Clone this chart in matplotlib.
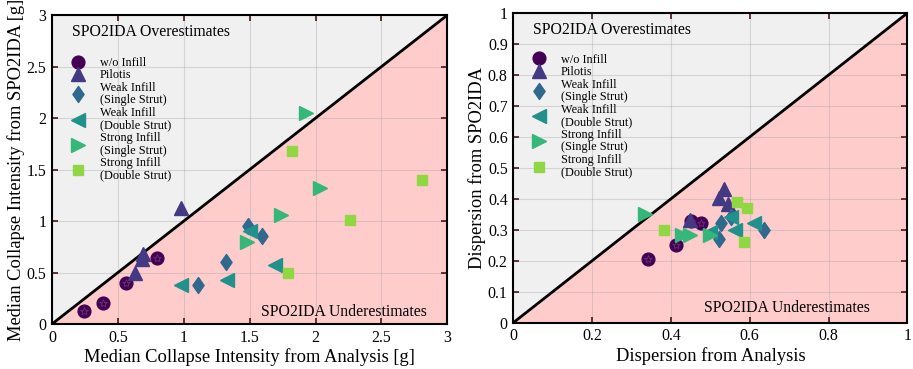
import matplotlib.pyplot as plt
import numpy as np
from matplotlib.path import Path

plt.rcParams['font.family'] = ['Liberation Serif', 'DejaVu Serif']

# tall diamond marker
tall_diamond = Path([(0, 1), (0.7, 0), (0, -1), (-0.7, 0), (0, 1)],
                    [Path.MOVETO, Path.LINETO, Path.LINETO, Path.LINETO, Path.CLOSEPOLY])

# group names, marker styles and colours
groups = ['w/o Infill', 'Pilotis', 'Weak Infill\n(Single Strut)', 'Weak Infill\n(Double Strut)',
          'Strong Infill\n(Single Strut)', 'Strong Infill\n(Double Strut)']
markers = ['o', '^', tall_diamond, '<', '>', 's']
colors = ['#440154', '#443983', '#31688e', '#21918c', '#35b779', '#90d743']
sizes = [9.2, 10, 11.5, 10, 10, 7.7]

# median collapse intensity [g]: analysis (x) vs SPO2IDA (y)
med_x = [
    [0.24, 0.385, 0.56, 0.80],
    [0.98, 0.69, 0.68, 0.63],
    [1.49, 1.59, 1.32, 1.11],
    [1.50, 1.69, 1.33, 0.98],
    [1.93, 2.03, 1.74, 1.48],
    [1.82, 2.81, 2.26, 1.79],
]
med_y = [
    [0.13, 0.20, 0.40, 0.645],
    [1.13, 0.68, 0.63, 0.50],
    [0.95, 0.85, 0.60, 0.38],
    [0.90, 0.57, 0.43, 0.38],
    [2.05, 1.32, 1.06, 0.80],
    [1.68, 1.40, 1.01, 0.50],
]

# dispersion: analysis (x) vs SPO2IDA (y)
disp_x = [
    [0.342, 0.414, 0.45, 0.477],
    [0.536, 0.523, 0.544, 0.449],
    [0.528, 0.635, 0.521, 0.553],
    [0.553, 0.610, 0.562, 0.500],
    [0.335, 0.428, 0.449, 0.500],
    [0.568, 0.593, 0.383, 0.585],
]
disp_y = [
    [0.207, 0.252, 0.33, 0.321],
    [0.433, 0.404, 0.382, 0.332],
    [0.321, 0.300, 0.271, 0.341],
    [0.341, 0.321, 0.298, 0.292],
    [0.352, 0.282, 0.282, 0.282],
    [0.389, 0.371, 0.298, 0.260],
]


def draw_panel(ax, xs, ys, lim, ticks, xlabel, ylabel, over_pos, under_pos, leg_anchor):
    # shaded halves either side of the 1:1 line
    ax.fill([0, lim, 0], [0, lim, lim], color='#f0f0f0', zorder=0.2, lw=0)
    ax.fill([0, lim, lim], [0, 0, lim], color='#ffcccc', zorder=0.2, lw=0)
    ax.plot([0, lim], [0, lim], color='black', lw=2, zorder=2)

    handles = []
    for i in range(len(groups)):
        h, = ax.plot(xs[i], ys[i], linestyle='none', marker=markers[i], ms=sizes[i],
                     color=colors[i], mec=colors[i], zorder=3 + i, label=groups[i])
        handles.append(h)
        if i == 0:
            # little starburst inside the circles
            ax.plot(xs[i], ys[i], linestyle='none', marker='*', ms=6, mfc='none',
                    mec='#6e3a7c', mew=0.5, zorder=3 + i)

    ax.set_xlim(0, lim)
    ax.set_ylim(0, lim)
    ax.set_xticks(ticks[0])
    ax.set_yticks(ticks[1])
    ax.set_xticklabels([f'{t:g}' for t in ticks[0]])
    ax.set_yticklabels([f'{t:g}' for t in ticks[1]])
    ax.grid(True, color='#a0a0a0', alpha=0.35, lw=0.8)
    ax.set_axisbelow(True)
    ax.tick_params(direction='in', top=True, right=True, length=4, width=1.2,
                   color='#4a1414', labelsize=11.4, pad=4)
    for s in ax.spines.values():
        s.set_linewidth(1.5)
        s.set_zorder(20)
    ax.set_xlabel(xlabel, fontsize=13.3, labelpad=2)
    ax.set_ylabel(ylabel, fontsize=13.3, labelpad=1)

    ax.text(over_pos[0], over_pos[1], 'SPO2IDA Overestimates', transform=ax.transAxes,
            fontsize=11.3, ha='left', va='center', zorder=30)
    ax.text(under_pos[0], under_pos[1], 'SPO2IDA Underestimates', transform=ax.transAxes,
            fontsize=11.3, ha='right', va='center', zorder=30)

    leg = ax.legend(handles=handles, loc='upper left', bbox_to_anchor=leg_anchor, frameon=False,
                    fontsize=8.8, labelspacing=0.05, handletextpad=0.8, handlelength=2,
                    borderpad=0, borderaxespad=0)
    for t in leg.get_texts():
        t.set_linespacing(1.05)


fig = plt.figure(figsize=(9.13, 3.69), dpi=100)
ax1 = fig.add_axes([0.057, 0.122, 0.433, 0.837])
ax2 = fig.add_axes([0.5622, 0.1255, 0.4316, 0.839])

draw_panel(ax1, med_x, med_y, 3, (np.arange(0, 3.01, 0.5), np.arange(0, 3.01, 0.5)),
           'Median Collapse Intensity from Analysis [g]',
           'Median Collapse Intensity from SPO2IDA [g]',
           (0.05, 0.944), (0.949, 0.04), (0.035, 0.865))
draw_panel(ax2, disp_x, disp_y, 1, (np.arange(0, 1.01, 0.2), np.arange(0, 1.01, 0.1)),
           'Dispersion from Analysis', 'Dispersion from SPO2IDA',
           (0.05, 0.947), (0.904, 0.046), (0.033, 0.869))

fig.savefig('out.png', dpi=100)
